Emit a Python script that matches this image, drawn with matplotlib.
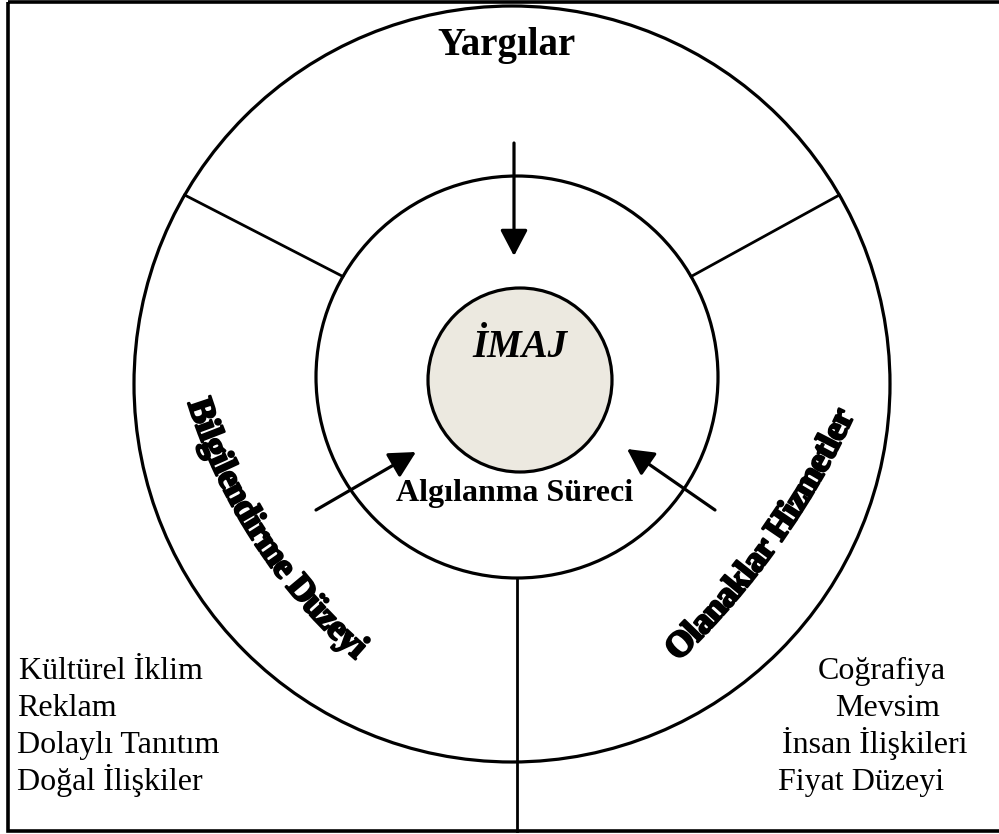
import numpy as np
import matplotlib
matplotlib.use("Agg")
import matplotlib.pyplot as plt
from matplotlib.patches import Circle, Rectangle, FancyArrowPatch
from matplotlib.font_manager import FontProperties
import matplotlib.patheffects as pe

# labels of the diagram
top_label = "Yargılar"
core_label = "İMAJ"
process_label = "Algılanma Süreci"
left_arc_label = "Bilgilendirme Düzeyi"
right_arc_label = "Olanaklar Hizmetler"
left_items = ["Kültürel İklim", "Reklam", "Dolaylı Tanıtım", "Doğal İlişkiler"]
right_items = ["Coğrafiya", "Mevsim", "İnsan İlişkileri", "Fiyat Düzeyi"]

SERIF = "Liberation Serif"
W, H = 999, 834

fig = plt.figure(figsize=(W / 100, H / 100), dpi=100)
ax = fig.add_axes([0, 0, 1, 1])
ax.set_xlim(0, W)
ax.set_ylim(H, 0)
ax.axis("off")

# frame
ax.add_patch(Rectangle((8, 2), 1000, 829, fill=False, lw=2.6, ec="black"))

# rings
outer_c, outer_r = (512, 384), 378
mid_c, mid_r = (517, 377), 201
core_c, core_r = (520, 380), 92
ax.add_patch(Circle(outer_c, outer_r, fill=False, lw=2.3, ec="black"))
ax.add_patch(Circle(mid_c, mid_r, fill=False, lw=2.3, ec="black"))
ax.add_patch(Circle(core_c, core_r, fc="#ECE9E0", lw=2.3, ec="black", zorder=3))

# spokes between the rings
for ang in [150, 30]:
    t = np.radians(ang)
    x0 = outer_c[0] + outer_r * np.cos(t)
    y0 = outer_c[1] - outer_r * np.sin(t)
    x1 = mid_c[0] + mid_r * np.cos(t)
    y1 = mid_c[1] - mid_r * np.sin(t)
    ax.plot([x0, x1], [y0, y1], color="black", lw=2.0)
ax.plot([mid_c[0], mid_c[0]], [mid_c[1] + mid_r, 831], color="black", lw=2.0)

# arrows towards the image
arrows = [((514, 143), (514, 256)), ((316, 510), (416, 452)), ((715, 510), (627, 449))]
for a, b in arrows:
    ax.add_patch(FancyArrowPatch(a, b, arrowstyle="-|>,head_length=0.8,head_width=0.42",
                                 mutation_scale=20, lw=2.3, color="black",
                                 shrinkA=0, shrinkB=0))

# straight texts
ax.text(506, 55, top_label, family=SERIF, weight="bold", fontsize=28,
        ha="center", va="baseline")
ax.text(520, 357, core_label, family=SERIF, weight="bold", style="italic",
        fontsize=28, ha="center", va="baseline", zorder=4)
ax.text(515, 501, process_label, family=SERIF, weight="bold", fontsize=23,
        ha="center", va="baseline")

left_x = [19, 17, 17, 17]
right_x = [818, 835, 782, 778]
for i, (l, r) in enumerate(zip(left_items, right_items)):
    y = 679 + i * 37
    ax.text(left_x[i], y, l, family=SERIF, fontsize=23, ha="left", va="baseline")
    ax.text(right_x[i], y, r, family=SERIF, fontsize=23, ha="left", va="baseline")


# curved headings
renderer = fig.canvas.get_renderer()


def arc_text(s, center, radius, theta0, fs, squeeze=0.93):
    fp = FontProperties(family=SERIF, weight="bold", size=fs)
    bar = renderer.get_text_width_height_descent("|", fp, ismath=False)[0]

    def width(t):
        if not t:
            return 0.0
        return renderer.get_text_width_height_descent(t + "|", fp, ismath=False)[0] - bar

    first = width(s[:1]) / 2
    em = fs * 100 / 72
    rb = radius + 0.33 * em
    for i, ch in enumerate(s):
        if ch == " ":
            continue
        off = ((width(s[:i]) + width(s[:i + 1])) / 2 - first) * squeeze
        th = np.radians(theta0) + off / radius
        x = center[0] + rb * np.cos(th)
        y = center[1] - rb * np.sin(th)
        ax.text(x, y, ch, fontproperties=fp, rotation=np.degrees(th) + 90,
                rotation_mode="anchor", ha="center", va="baseline",
                path_effects=[pe.withStroke(linewidth=1.6, foreground="black")])


arc_text(left_arc_label, (727, 234), 553, 198.6, 26)
arc_text(right_arc_label, (126, 80), 790, -45.5, 26)

fig.savefig("out.png", dpi=100)
